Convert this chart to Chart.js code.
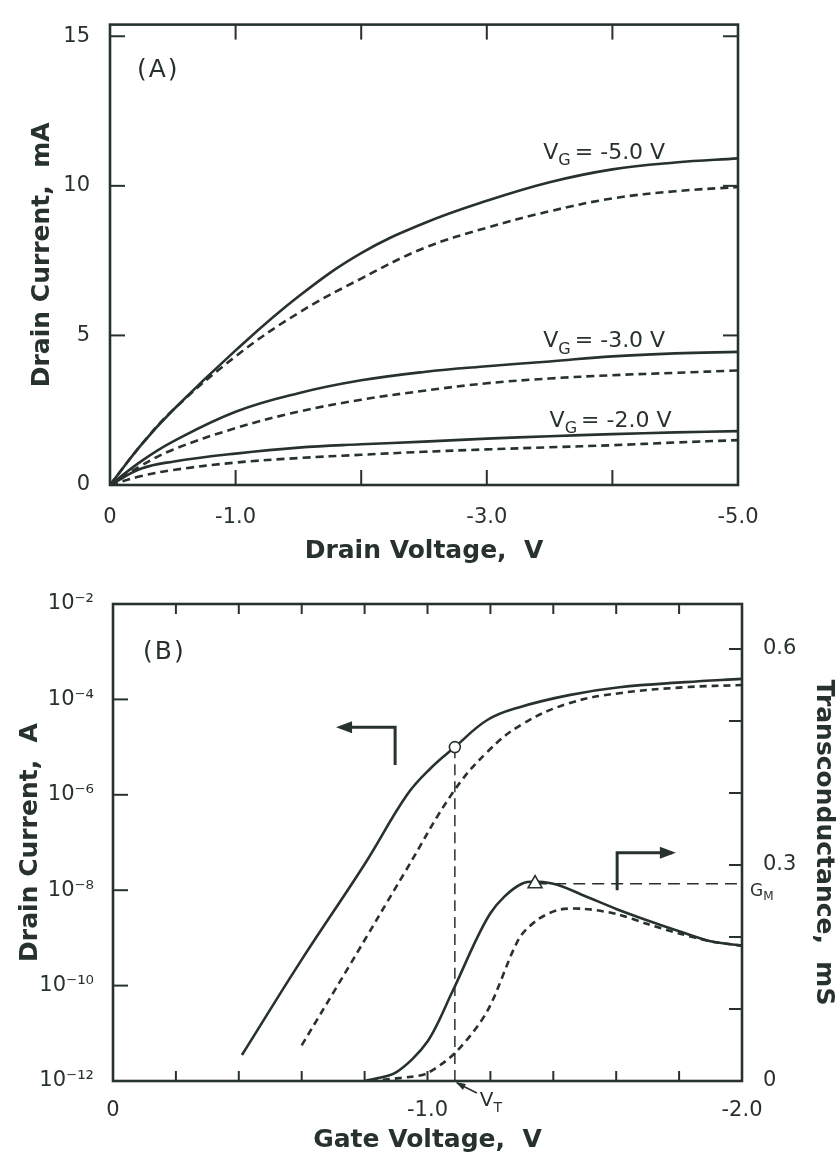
<!DOCTYPE html>
<html>
<head>
<meta charset="utf-8">
<script src="https://cdn.jsdelivr.net/npm/chart.js@4.4.1/dist/chart.umd.min.js"></script>
<style>
  html, body { margin: 0; padding: 0; background: #fff; }
  #wrapA { position: absolute; left: 0; top: 0; }
  #wrapB { position: absolute; left: 0; top: 570px; }
</style>
</head>
<body>
<div id="wrapA"><canvas id="chartA" width="839" height="570"></canvas></div>
<div id="wrapB"><canvas id="chartB" width="839" height="591"></canvas></div>
<script>
const INK = '#28322d';
const FONT = "'DejaVu Sans', sans-serif";

// (A) drain current (mA) vs drain voltage, solid / dashed per gate voltage
const drainVoltage = [0, -0.25, -0.5, -1.0, -1.5, -2.0, -2.5, -3.0, -3.5, -4.0, -4.5, -5.0];
const vg5Solid  = [0, 1.35, 2.5, 4.5, 6.3, 7.75, 8.75, 9.5, 10.12, 10.55, 10.78, 10.92];
const vg5Dashed = [0, 1.35, 2.5, 4.3, 5.75, 6.9, 7.92, 8.6, 9.15, 9.58, 9.82, 9.96];
const vg3Solid  = [0, 0.8, 1.45, 2.45, 3.07, 3.5, 3.78, 3.97, 4.13, 4.3, 4.4, 4.45];
const vg3Dashed = [0, 0.65, 1.18, 1.9, 2.45, 2.85, 3.15, 3.4, 3.56, 3.67, 3.75, 3.83];
const vg2Solid  = [0, 0.55, 0.78, 1.05, 1.25, 1.36, 1.45, 1.55, 1.63, 1.7, 1.76, 1.8];
const vg2Dashed = [0, 0.3, 0.5, 0.75, 0.9, 1.01, 1.11, 1.19, 1.26, 1.33, 1.42, 1.5];
const gateLabels = ['-5.0', '-3.0', '-2.0'];
const drainTicks = [0, -1, -2, -3, -4, -5];
const drainTickLabels = ['0', '-1.0', '', '-3.0', '', '-5.0'];
const currentTicksA = [0, 5, 10, 15];
const currentTickLabelsA = ['0', '5', '10', '15'];

// (B) transfer curve (log A) and transconductance (mS) vs gate voltage
const idSolidVg  = [-0.41, -0.6, -0.8, -0.935, -1.01, -1.087, -1.19, -1.29, -1.45, -1.61, -1.82, -2.0];
const idSolidA   = [3.5e-12, 3.5e-10, 3.5e-8, 1.0e-6, 3.6e-6, 1.0e-5, 3.7e-5, 6.8e-5, 1.23e-4, 1.8e-4, 2.3e-4, 2.7e-4];
const idDashedVg = [-0.6, -0.75, -0.93, -1.08, -1.19, -1.3, -1.45, -1.61, -1.82, -2.0];
const idDashedA  = [5.6e-12, 2.5e-10, 2.5e-8, 1.1e-6, 7.9e-6, 3.0e-5, 8.3e-5, 1.35e-4, 1.8e-4, 2.0e-4];
const gmSolidVg  = [-0.8, -0.9, -1.0, -1.08, -1.2, -1.3, -1.4, -1.5, -1.6, -1.7, -1.8, -1.9, -2.0];
const gmSolidMs  = [0, 0.012, 0.055, 0.125, 0.233, 0.274, 0.274, 0.257, 0.239, 0.223, 0.208, 0.194, 0.188];
const gmDashedVg = [-0.82, -0.95, -1.0, -1.09, -1.19, -1.29, -1.35, -1.42, -1.5, -1.6, -1.7, -1.8, -1.9, -2.0];
const gmDashedMs = [0, 0.006, 0.011, 0.04, 0.097, 0.197, 0.224, 0.238, 0.239, 0.232, 0.218, 0.205, 0.194, 0.188];
const thresholdV = -1.087, thresholdId = 1.0e-5, idFloor = 1e-12;
const peakV = -1.342, peakGm = 0.274, gateEnd = -2.0;
const gateTicks = [0, -0.2, -0.4, -0.6, -0.8, -1.0, -1.2, -1.4, -1.6, -1.8, -2.0];
const gateTickLabels = ['0', '', '', '', '', '-1.0', '', '', '', '', '-2.0'];
const idTicks = [1e-12, 1e-10, 1e-8, 1e-6, 1e-4, 1e-2];
const idTickLabels = ['10⁻¹²', '10⁻¹⁰', '10⁻⁸', '10⁻⁶', '10⁻⁴', '10⁻²'];
const gmTicks = [0, 0.1, 0.2, 0.3, 0.4, 0.5, 0.6];
const gmTickLabels = ['0', '', '', '0.3', '', '', '0.6'];

Chart.defaults.font.family = FONT;
Chart.defaults.color = INK;

const pts = (xs, ys) => xs.map((x, i) => ({x: x, y: ys[i]}));

function lineSet(data, dashed, extra) {
  return Object.assign({
    data: data,
    borderColor: INK,
    borderWidth: 2.6,
    borderDash: dashed ? [8, 5] : [],
    pointRadius: 0,
    fill: false,
    tension: 0.4,
    order: 2
  }, extra || {});
}

// frame plus inward tick marks
function drawFrame(chart, spec) {
  const {ctx, chartArea: a} = chart;
  ctx.save();
  ctx.strokeStyle = INK;
  ctx.lineWidth = 2.6;
  ctx.strokeRect(a.left, a.top, a.right - a.left, a.bottom - a.top);
  ctx.lineWidth = 2;
  spec.forEach(s => {
    const sc = chart.scales[s.id];
    sc.ticks.forEach(t => {
      const p = sc.getPixelForValue(t.value);
      s.sides.forEach(side => {
        ctx.beginPath();
        if (side === 'bottom') { ctx.moveTo(p, a.bottom); ctx.lineTo(p, a.bottom - s.len); }
        if (side === 'top') { ctx.moveTo(p, a.top); ctx.lineTo(p, a.top + s.len); }
        if (side === 'left') { ctx.moveTo(a.left, p); ctx.lineTo(a.left + s.len, p); }
        if (side === 'right') { ctx.moveTo(a.right, p); ctx.lineTo(a.right - s.len, p); }
        ctx.stroke();
      });
    });
  });
  ctx.restore();
}

function subText(ctx, x, y, main, sub, rest, size) {
  ctx.font = size + 'px ' + FONT;
  ctx.fillText(main, x, y);
  let w = ctx.measureText(main).width;
  ctx.font = Math.round(size * 0.72) + 'px ' + FONT;
  ctx.fillText(sub, x + w, y + size * 0.28);
  w += ctx.measureText(sub).width;
  if (rest) {
    ctx.font = size + 'px ' + FONT;
    ctx.fillText(rest, x + w + 4, y);
  }
}

function arrow(ctx, p) {
  ctx.beginPath();
  ctx.moveTo(p[0][0], p[0][1]);
  for (let i = 1; i < p.length; i++) ctx.lineTo(p[i][0], p[i][1]);
  ctx.stroke();
  const [x0, y0] = p[p.length - 2], [x1, y1] = p[p.length - 1];
  const ang = Math.atan2(y1 - y0, x1 - x0);
  ctx.save();
  ctx.translate(x1, y1);
  ctx.rotate(ang);
  ctx.beginPath();
  ctx.moveTo(4, 0);
  ctx.lineTo(-12, -6);
  ctx.lineTo(-12, 6);
  ctx.closePath();
  ctx.fill();
  ctx.restore();
}

function panelLabel(ctx, text, x, y) {
  ctx.save();
  ctx.font = '25px ' + FONT;
  ctx.letterSpacing = '2px';
  ctx.fillText(text, x, y);
  ctx.restore();
}

const titleFont = {family: FONT, size: 25, weight: 'bold'};
const tickFont = {family: FONT, size: 21};

// ---------- panel A ----------
const gateLabelPos = [{x: -3.45, y: 10.9}, {x: -3.45, y: 4.6}, {x: -3.5, y: 1.95}];

new Chart(document.getElementById('chartA'), {
  type: 'line',
  data: {
    datasets: [
      lineSet(pts(drainVoltage, vg5Solid), false),
      lineSet(pts(drainVoltage, vg5Dashed), true),
      lineSet(pts(drainVoltage, vg3Solid), false),
      lineSet(pts(drainVoltage, vg3Dashed), true),
      lineSet(pts(drainVoltage, vg2Solid), false),
      lineSet(pts(drainVoltage, vg2Dashed), true)
    ]
  },
  options: {
    responsive: false,
    animation: false,
    layout: {padding: {top: 8, right: 101, left: 0, bottom: 0}},
    plugins: {legend: {display: false}, tooltip: {enabled: false}},
    scales: {
      x: {
        type: 'linear', min: -5, max: 0, reverse: true,
        grid: {display: false}, border: {display: false},
        afterBuildTicks: s => { s.ticks = drainTicks.map(v => ({value: v})); },
        afterFit: s => { s.height = 85; },
        ticks: {font: tickFont, padding: 12, autoSkip: false, maxRotation: 0,
                callback: (v, i) => drainTickLabels[i]},
        title: {display: true, text: 'Drain Voltage,  V', font: titleFont, padding: {top: 4, bottom: 4}}
      },
      y: {
        type: 'linear', min: 0, max: 15.39,
        grid: {display: false}, border: {display: false},
        afterBuildTicks: s => { s.ticks = currentTicksA.map(v => ({value: v})); },
        afterFit: s => { s.width = 110; },
        ticks: {font: tickFont, padding: 12, callback: (v, i) => currentTickLabelsA[i]},
        title: {display: true, text: 'Drain Current,  mA', font: titleFont, padding: {top: 27, bottom: 27}}
      }
    }
  },
  plugins: [{
    id: 'decorA',
    afterDatasetsDraw(chart) {
      drawFrame(chart, [
        {id: 'x', sides: ['top', 'bottom'], len: 15},
        {id: 'y', sides: ['left', 'right'], len: 15}
      ]);
      const {ctx, chartArea: a, scales: {x, y}} = chart;
      ctx.save();
      ctx.fillStyle = INK;
      ctx.textBaseline = 'alphabetic';
      panelLabel(ctx, '(A)', a.left + 27, a.top + 52);
      gateLabels.forEach((g, i) => {
        const p = gateLabelPos[i];
        subText(ctx, x.getPixelForValue(p.x), y.getPixelForValue(p.y), 'V', 'G', '= ' + g + ' V', 22);
      });
      ctx.restore();
    }
  }]
});

// ---------- panel B ----------
const idArrow = [[-0.897, 4.2e-6], [-0.897, 2.6e-5], [-0.722, 2.6e-5]];
const gmArrow = [[-1.603, 0.265], [-1.603, 0.317], [-1.777, 0.317]];

new Chart(document.getElementById('chartB'), {
  type: 'line',
  data: {
    datasets: [
      {data: [{x: thresholdV, y: thresholdId}], yAxisID: 'yId', showLine: false, order: 0,
       pointStyle: 'circle', pointRadius: 5.5, pointBackgroundColor: '#fff', pointBorderColor: INK, pointBorderWidth: 1.6},
      {data: [{x: peakV, y: peakGm}], yAxisID: 'yGm', showLine: false, order: 0,
       pointStyle: 'triangle', pointRadius: 8, pointBackgroundColor: '#fff', pointBorderColor: INK, pointBorderWidth: 1.6},
      lineSet(pts(idSolidVg, idSolidA), false, {yAxisID: 'yId'}),
      lineSet(pts(idDashedVg, idDashedA), true, {yAxisID: 'yId', borderDash: [7, 5]}),
      lineSet(pts(gmSolidVg, gmSolidMs), false, {yAxisID: 'yGm', tension: 0.3}),
      lineSet(pts(gmDashedVg, gmDashedMs), true, {yAxisID: 'yGm', borderDash: [7, 5], tension: 0.3}),
      lineSet([{x: thresholdV, y: thresholdId}, {x: thresholdV, y: idFloor}], true,
              {yAxisID: 'yId', borderWidth: 1.5, borderDash: [11, 6], order: 3}),
      lineSet([{x: peakV, y: peakGm}, {x: gateEnd, y: peakGm}], true,
              {yAxisID: 'yGm', borderWidth: 1.5, borderDash: [12, 7], order: 3})
    ]
  },
  options: {
    responsive: false,
    animation: false,
    layout: {padding: {top: 34, right: 0, left: 0, bottom: 0}},
    plugins: {legend: {display: false}, tooltip: {enabled: false}},
    scales: {
      x: {
        type: 'linear', min: -2, max: 0, reverse: true,
        grid: {display: false}, border: {display: false},
        afterBuildTicks: s => { s.ticks = gateTicks.map(v => ({value: v})); },
        afterFit: s => { s.height = 80; },
        ticks: {font: tickFont, padding: 9, autoSkip: false, maxRotation: 0,
                callback: (v, i) => gateTickLabels[i]},
        title: {display: true, text: 'Gate Voltage,  V', font: titleFont, padding: {top: 6, bottom: 6}}
      },
      yId: {
        type: 'logarithmic', position: 'left', min: 1e-12, max: 1e-2,
        grid: {display: false}, border: {display: false},
        afterBuildTicks: s => { s.ticks = idTicks.map(v => ({value: v})); },
        afterFit: s => { s.width = 113; },
        ticks: {font: tickFont, padding: 11, autoSkip: false, callback: (v, i) => idTickLabels[i]},
        title: {display: true, text: 'Drain Current,  A', font: titleFont, padding: {top: 15, bottom: 15}}
      },
      yGm: {
        type: 'linear', position: 'right', min: 0, max: 0.6625,
        grid: {display: false}, border: {display: false},
        afterBuildTicks: s => { s.ticks = gmTicks.map(v => ({value: v})); },
        afterFit: s => { s.width = 97; },
        ticks: {font: tickFont, padding: 13, autoSkip: false, callback: (v, i) => gmTickLabels[i]},
        title: {display: true, text: 'Transconductance,  mS', font: titleFont, padding: {top: 1, bottom: 1}}
      }
    }
  },
  plugins: [{
    id: 'decorB',
    afterDatasetsDraw(chart) {
      drawFrame(chart, [
        {id: 'x', sides: ['top', 'bottom'], len: 10},
        {id: 'yId', sides: ['left'], len: 15},
        {id: 'yGm', sides: ['right'], len: 13}
      ]);
      const {ctx, chartArea: a, scales: {x, yId, yGm}} = chart;
      ctx.save();
      ctx.fillStyle = INK;
      ctx.strokeStyle = INK;
      ctx.lineWidth = 3;
      arrow(ctx, idArrow.map(p => [x.getPixelForValue(p[0]), yId.getPixelForValue(p[1])]));
      arrow(ctx, gmArrow.map(p => [x.getPixelForValue(p[0]), yGm.getPixelForValue(p[1])]));

      panelLabel(ctx, '(B)', a.left + 30, a.top + 55);

      // threshold voltage pointer
      const vx = x.getPixelForValue(thresholdV);
      ctx.lineWidth = 1.6;
      ctx.beginPath();
      ctx.moveTo(vx + 2, a.bottom + 2);
      ctx.lineTo(vx + 22, a.bottom + 12);
      ctx.stroke();
      ctx.beginPath();
      ctx.moveTo(vx + 1, a.bottom + 1);
      ctx.lineTo(vx + 11, a.bottom + 3);
      ctx.lineTo(vx + 8, a.bottom + 9);
      ctx.closePath();
      ctx.fill();
      subText(ctx, vx + 25, a.bottom + 25, 'V', 'T', '', 20);

      // peak transconductance label
      subText(ctx, a.right + 8, yGm.getPixelForValue(peakGm) + 12, 'G', 'M', '', 17);
      ctx.restore();
    }
  }]
});
</script>
</body>
</html>
